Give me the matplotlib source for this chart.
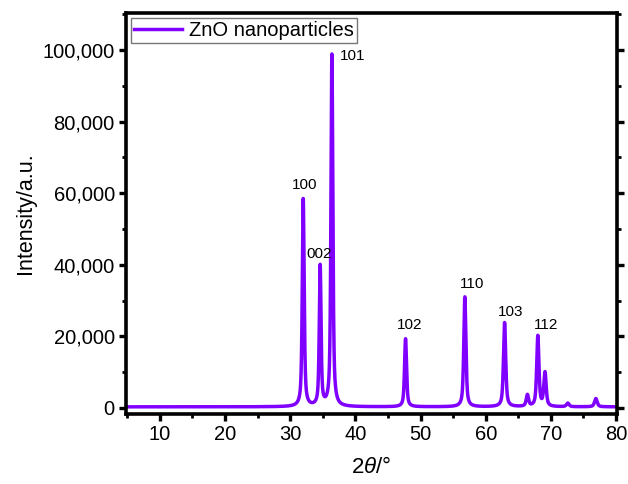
import numpy as np
import matplotlib
matplotlib.use("Agg")
import matplotlib.pyplot as plt
from matplotlib.ticker import MultipleLocator, FuncFormatter

plt.rcParams['font.family'] = ['Liberation Sans', 'DejaVu Sans']
plt.rcParams['mathtext.fontset'] = 'custom'
plt.rcParams['mathtext.it'] = 'Liberation Sans:italic'
plt.rcParams['mathtext.rm'] = 'Liberation Sans'

# Peak data (2theta in degrees, intensity a.u.)
peak_pos = [32.0, 34.6, 36.4, 47.7, 56.8, 62.9, 66.4, 68.0, 69.1, 72.6, 76.9]
peak_height = [58300, 39400, 98600, 19300, 31000, 23800, 3500, 20000, 9700, 1300, 2600]
peak_fwhm = [0.34, 0.32, 0.34, 0.36, 0.38, 0.40, 0.42, 0.40, 0.42, 0.48, 0.48]
baseline_level = 300

hkl_labels = ['100', '002', '101', '102', '110', '103', '112']
label_x = [32.2, 34.4, 37.6, 48.4, 57.9, 63.9, 69.2]
label_y = [60300, 40900, 96300, 21200, 32700, 24800, 21200]
label_ha = ['center', 'center', 'left', 'center', 'center', 'center', 'center']

two_theta = np.arange(5.0, 80.0, 0.01)
intensity = np.full_like(two_theta, baseline_level, dtype=float)
for p, h, w in zip(peak_pos, peak_height, peak_fwhm):
    g = w / 2.0
    lor = 1.0 / (1.0 + ((two_theta - p) / g) ** 2)
    gau = np.exp(-np.log(2) * ((two_theta - p) / g) ** 2)
    intensity += (h - baseline_level) * (0.65 * lor + 0.35 * gau)

fig = plt.figure(figsize=(6.28, 4.84), dpi=100)
ax = fig.add_axes([0.2006, 0.1446, 0.7819, 0.8285])

color = '#7F00FF'
ax.plot(two_theta, intensity, color=color, lw=2.5, label='ZnO nanoparticles')

for t, x, y, ha in zip(hkl_labels, label_x, label_y, label_ha):
    ax.text(x, y, t, ha=ha, va='bottom', fontsize=11)

ax.set_xlim(4.8, 80.15)
ax.set_ylim(-1700, 110300)
ax.xaxis.set_major_locator(MultipleLocator(10))
ax.xaxis.set_minor_locator(MultipleLocator(5))
ax.yaxis.set_major_locator(MultipleLocator(20000))
ax.yaxis.set_minor_locator(MultipleLocator(10000))
ax.yaxis.set_major_formatter(FuncFormatter(lambda v, p: f"{int(v):,}"))

for s in ax.spines.values():
    s.set_linewidth(2.6)
ax.tick_params(which='major', direction='out', length=5, width=2.4, labelsize=14.5,
               right=True, top=False, pad=3)
ax.tick_params(which='minor', direction='out', length=3, width=2.0, right=True, top=False)

ax.set_xlabel(r'2$\it{\theta}$/°', fontsize=16, labelpad=9)
ax.set_ylabel('Intensity/a.u.', fontsize=15.5, labelpad=5)

leg = ax.legend(loc='upper left', fontsize=14.5, frameon=True, fancybox=False,
                borderpad=0.15, handlelength=2.4, handletextpad=0.35,
                borderaxespad=0.25)
leg.get_frame().set_edgecolor('#555555')
leg.get_frame().set_linewidth(1.0)

fig.savefig('out.png', dpi=100)
